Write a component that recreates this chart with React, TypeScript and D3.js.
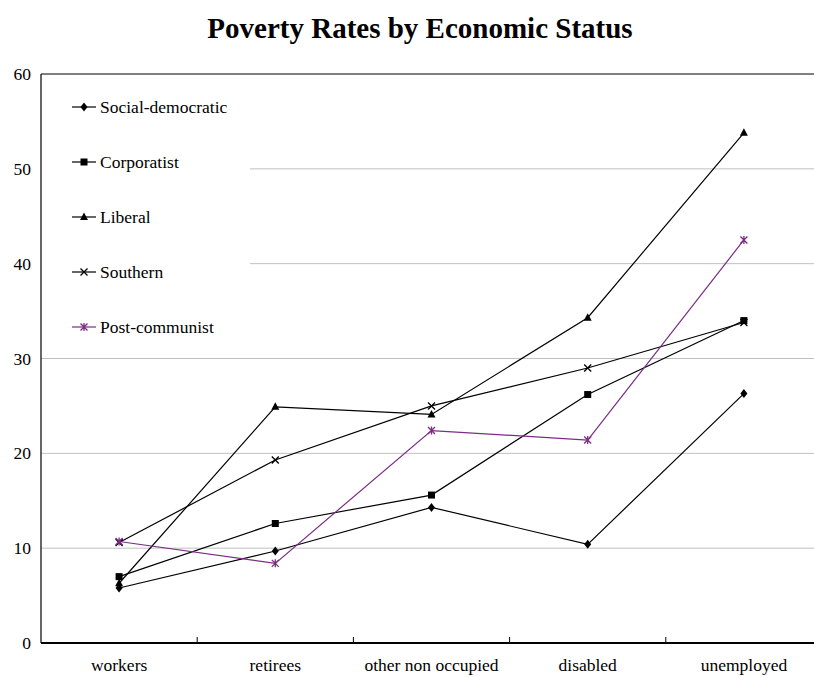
import React from "react";
import * as d3 from "d3";

const categories = ["workers", "retirees", "other non occupied", "disabled", "unemployed"];
const seriesNames = ["Social-democratic", "Corporatist", "Liberal", "Southern", "Post-communist"];
const socialDemocratic = [5.8, 9.7, 14.3, 10.4, 26.3];
const corporatist = [7.0, 12.6, 15.6, 26.2, 34.0];
const liberal = [6.3, 24.9, 24.1, 34.3, 53.8];
const southern = [10.6, 19.3, 25.0, 29.0, 33.8];
const postCommunist = [10.7, 8.4, 22.4, 21.4, 42.5];
const yTicks = [0, 10, 20, 30, 40, 50, 60];

const seriesValues = [socialDemocratic, corporatist, liberal, southern, postCommunist];
const markers = ["diamond", "square", "triangle", "x", "star"];
const colors = ["#000", "#000", "#000", "#000", "#7B2C83"];

const FONT = "'Liberation Serif', 'Times New Roman', serif";

function Marker({ type, x, y, color }: { type: string; x: number; y: number; color: string }) {
  if (type === "diamond") {
    return <path d={`M${x},${y - 4.5}L${x + 3.5},${y}L${x},${y + 4.5}L${x - 3.5},${y}Z`} fill={color} />;
  }
  if (type === "square") {
    return <rect x={x - 3.5} y={y - 3.5} width={7} height={7} fill={color} />;
  }
  if (type === "triangle") {
    return <path d={`M${x},${y - 4.5}L${x + 4},${y + 3}L${x - 4},${y + 3}Z`} fill={color} />;
  }
  if (type === "x") {
    return (
      <path d={`M${x - 3.5},${y - 3.5}L${x + 3.5},${y + 3.5}M${x + 3.5},${y - 3.5}L${x - 3.5},${y + 3.5}`} stroke={color} strokeWidth={1.3} />
    );
  }
  return (
    <path
      d={`M${x - 3.5},${y - 3.5}L${x + 3.5},${y + 3.5}M${x + 3.5},${y - 3.5}L${x - 3.5},${y + 3.5}M${x},${y - 4}L${x},${y + 4}`}
      stroke={color}
      strokeWidth={1.3}
    />
  );
}

export default function App() {
  const W = 814, H = 677;
  const left = 41, top = 74, bottom = 643, right = 822;
  const x = d3.scaleBand<string>().domain(categories).range([left, right]);
  const y = d3.scaleLinear().domain([0, 60]).range([bottom, top]);
  const line = d3
    .line<number>()
    .x((_, i) => (x(categories[i]) as number) + x.bandwidth() / 2)
    .y((d) => y(d));
  const legendRight = 250;
  const legendBottom = 350;

  return (
    <svg width={W} height={H} style={{ position: "absolute", left: 0, top: 0 }} fontFamily={FONT}>
      <rect width={W} height={H} fill="#fff" />
      <text x={420} y={38} textAnchor="middle" fontSize={29} fontWeight="bold">
        Poverty Rates by Economic Status
      </text>
      {yTicks.slice(1, -1).map((t) => (
        <line
          key={t}
          x1={y(t) < legendBottom ? legendRight : left}
          x2={right}
          y1={y(t)}
          y2={y(t)}
          stroke="#c0c0c0"
          strokeWidth={1}
        />
      ))}
      {yTicks.map((t) => (
        <text key={t} x={31} y={y(t) + 6} textAnchor="end" fontSize={17.5}>
          {t}
        </text>
      ))}
      <line x1={left} x2={right} y1={top} y2={top} stroke="#000" strokeWidth={1} />
      <line x1={left} x2={left} y1={top} y2={bottom} stroke="#000" strokeWidth={1.2} />
      <line x1={left} x2={right} y1={bottom} y2={bottom} stroke="#000" strokeWidth={2} />
      {categories.slice(1).map((c) => (
        <line key={c} x1={x(c) as number} x2={x(c) as number} y1={bottom} y2={bottom - 6} stroke="#000" strokeWidth={1} />
      ))}
      {categories.map((c) => (
        <text key={c} x={(x(c) as number) + x.bandwidth() / 2} y={671} textAnchor="middle" fontSize={17.5}>
          {c}
        </text>
      ))}
      {seriesValues.map((vals, si) => (
        <g key={si}>
          <path d={line(vals) as string} fill="none" stroke={colors[si]} strokeWidth={1.2} />
          {vals.map((v, i) => (
            <Marker key={i} type={markers[si]} x={(x(categories[i]) as number) + x.bandwidth() / 2} y={y(v)} color={colors[si]} />
          ))}
        </g>
      ))}
      {seriesNames.map((n, i) => {
        const ly = 107 + i * 55;
        return (
          <g key={n}>
            <line x1={72} x2={96} y1={ly} y2={ly} stroke={colors[i]} strokeWidth={1.2} />
            <Marker type={markers[i]} x={84} y={ly} color={colors[i]} />
            <text x={100} y={ly + 6} fontSize={17.5}>
              {n}
            </text>
          </g>
        );
      })}
    </svg>
  );
}
